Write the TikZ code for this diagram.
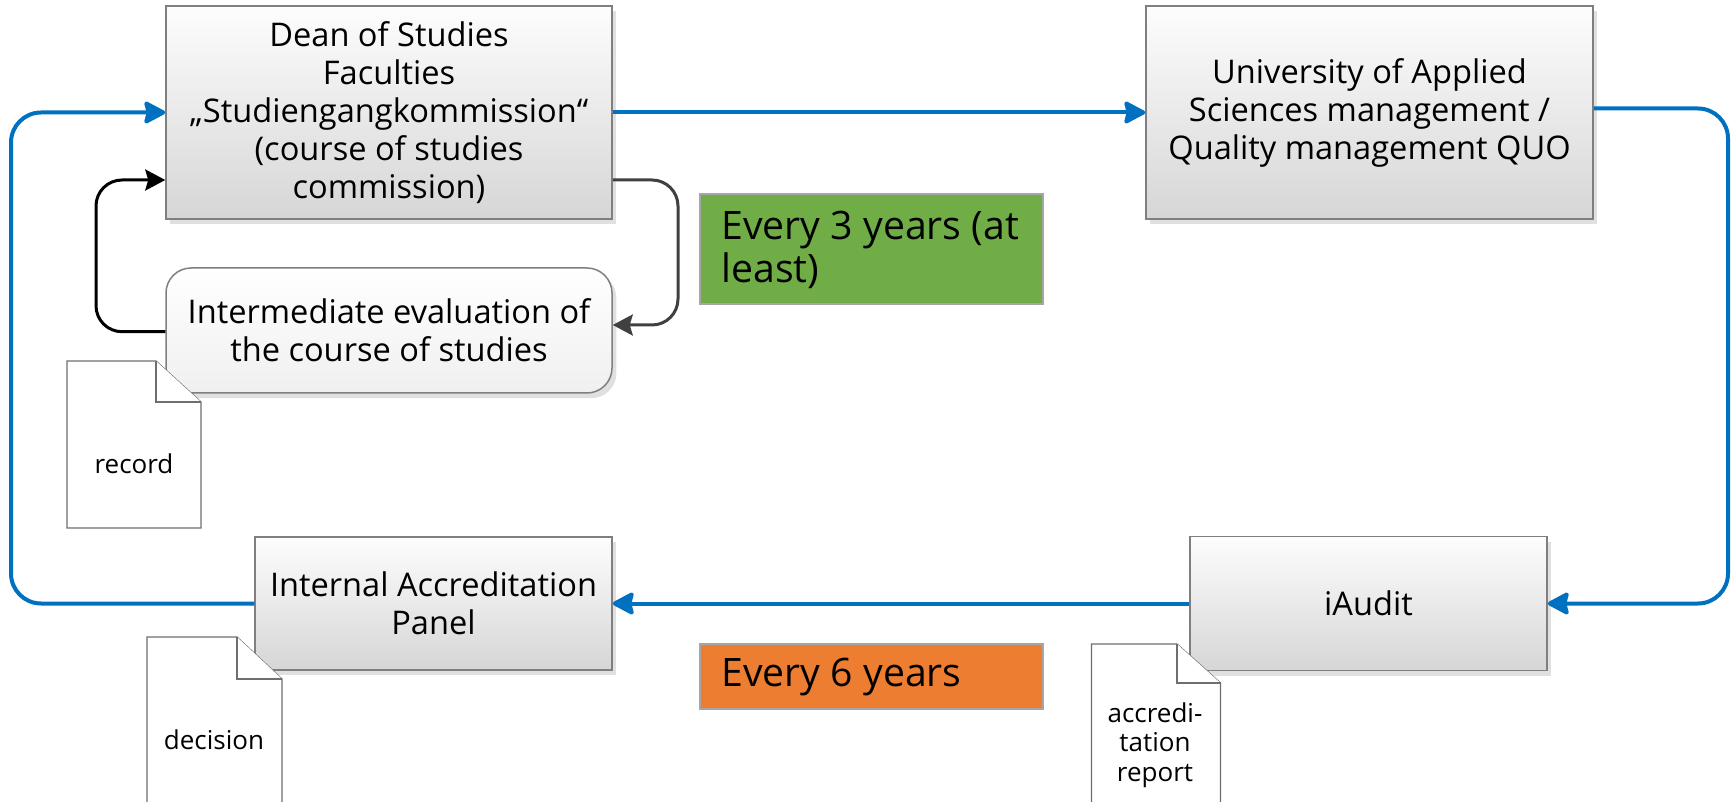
\documentclass[tikz,border=0pt]{standalone}
\usepackage{fontspec}
\setmainfont{Open Sans}
\usetikzlibrary{arrows.meta,shadows}

\definecolor{flowblue}{HTML}{0070C0}
\definecolor{loopgray}{HTML}{404040}
\definecolor{boxborder}{HTML}{7F7F7F}
\definecolor{boxtop}{HTML}{FDFDFD}
\definecolor{boxbottom}{HTML}{D6D6D6}
\definecolor{greenlabel}{HTML}{70AD47}
\definecolor{orangelabel}{HTML}{ED7D31}
\definecolor{docborder}{HTML}{6E6E6E}

\tikzset{
  process/.style={draw=boxborder, line width=0.75pt, top color=boxtop,
    bottom color=boxbottom, rectangle, inner sep=0pt, align=center,
    font=\fontsize{16.3}{19}\selectfont,
    drop shadow={shadow xshift=2.2pt, shadow yshift=-2.6pt, fill=black, opacity=0.12}},
  roundproc/.style={process, rounded corners=12.5pt, top color=white,
    bottom color=black!6},
  period/.style={draw=black!35, line width=0.6pt, rectangle, inner sep=0pt},
  periodtext/.style={anchor=west, align=left, inner sep=0pt,
    font=\fontsize{19.6}{21.5}\selectfont},
  doc/.style={draw=docborder, line width=0.6pt, fill=white},
  doctext/.style={align=center, inner sep=0pt, font=\fontsize{13}{14.75}\selectfont},
  mainflow/.style={draw=flowblue, line width=2pt, rounded corners=15pt,
    -{Stealth[length=12pt, width=12.5pt, inset=1.5pt, round]}},
  loopflow/.style={line width=1.5pt, rounded corners=13pt,
    -{Stealth[length=10pt, width=10.5pt, inset=1.5pt]}},
}

\begin{document}
\begin{tikzpicture}[x=0.5pt, y=-0.5pt]
  \useasboundingbox (0,0) rectangle (1736,802);

  % process boxes
  \node[process, minimum width=223pt, minimum height=106.5pt] (dean) at (389,112.5)
    {Dean of Studies\\Faculties\\„Studiengangkommission“\\(course of studies\\commission)};
  \node[process, minimum width=223.5pt, minimum height=106.5pt] (uni) at (1369.5,112.5)
    {University of Applied\\Sciences management /\\Quality management QUO};
  \node[roundproc, minimum width=223pt, minimum height=62.5pt] (inter) at (389,330.5)
    {Intermediate evaluation of\\the course of studies};
  \node[process, minimum width=178.5pt, minimum height=66.5pt] (panel) at (433.5,603.5)
    {Internal Accreditation\\Panel};
  \node[process, minimum width=178.5pt, minimum height=67pt] (iaudit) at (1368.5,603.5)
    {iAudit};

  % period labels
  \node[period, fill=greenlabel, minimum width=171.5pt, minimum height=55pt] (every3) at (871.5,249) {};
  \node[periodtext] (every3text) at (721,250) {Every 3 years (at\\least)};
  \node[period, fill=orangelabel, minimum width=171.5pt, minimum height=32.5pt] (every6) at (871.5,676.5) {};
  \node[periodtext] (every6text) at (721,677) {Every 6 years};

  % documents with folded corner
  \draw[doc] (67,361) -- (156,361) -- (201,402) -- (201,528) -- (67,528) -- cycle;
  \draw[doc] (156,361) -- (156,402) -- (201,402);
  \node[doctext] (record) at (134,464) {record};

  \draw[doc] (147,637) -- (237,637) -- (282,679) -- (282,812) -- (147,812) -- cycle;
  \draw[doc] (237,637) -- (237,679) -- (282,679);
  \node[doctext] (decision) at (214,740) {decision};

  \draw[doc] (1091.5,644) -- (1177,644) -- (1220.5,683) -- (1220.5,812) -- (1091.5,812) -- cycle;
  \draw[doc] (1177,644) -- (1177,683) -- (1220.5,683);
  \node[doctext] (report) at (1155,745) {accredi-\\tation\\report};

  % routing columns and port points of the connectors
  \coordinate (rightrail) at (1728,0);
  \coordinate (leftrail) at (11,0);
  \coordinate (innerright) at (678,0);
  \coordinate (innerleft) at (96,0);
  \coordinate (uniout) at ([yshift=2pt]uni.east);
  \coordinate (deanlowout) at ([yshift=-33.75pt]dean.east);
  \coordinate (deanlowin) at ([yshift=-33.75pt]dean.west);
  \coordinate (interin) at ([yshift=2.75pt]inter.east);
  \coordinate (interout) at ([yshift=-0.6pt]inter.west);

  % main accreditation cycle
  \draw[mainflow] (dean.east) -- (uni.west);
  \draw[mainflow] (uniout) -| (rightrail |- iaudit.east) -- (iaudit.east);
  \draw[mainflow] (iaudit.west) -- (panel.east);
  \draw[mainflow] (panel.west) -| (leftrail |- dean.west) -- (dean.west);

  % intermediate evaluation loop
  \draw[loopflow, draw=loopgray] (deanlowout) -| (innerright |- interin) -- (interin);
  \draw[loopflow, draw=black] (interout) -| (innerleft |- deanlowin) -- (deanlowin);
\end{tikzpicture}
\end{document}
